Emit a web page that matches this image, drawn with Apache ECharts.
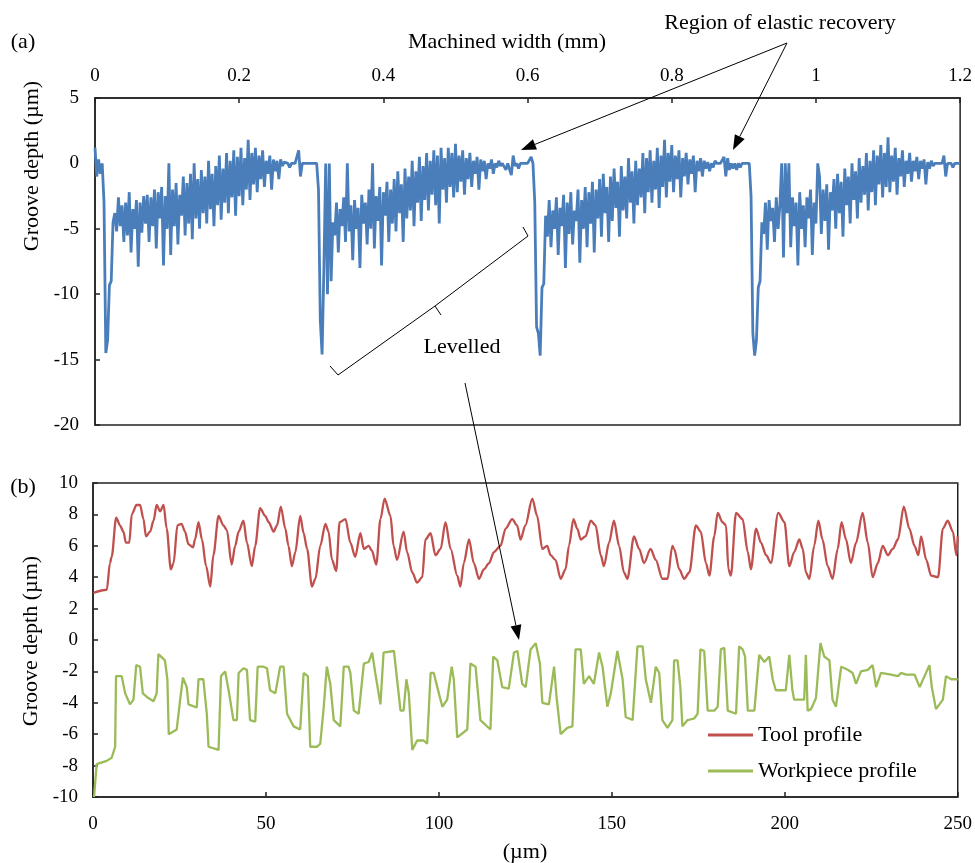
<!DOCTYPE html>
<html>
<head>
<meta charset="utf-8">
<title>Groove depth profiles</title>
<script src="https://cdn.jsdelivr.net/npm/echarts@6.0.0/dist/echarts.min.js"></script>
<style>
  html, body { margin: 0; padding: 0; background: #fff; }
  #chart { width: 975px; height: 863px; }
</style>
</head>
<body>
<div id="chart"></div>
<script>
// (a) groove depth along machined width, one reading every 0.0025 mm from 0 to 1.2 mm
const widthStepMm = 0.0025;
const grooveDepthA = [
  1.2, -1.0, 0.3, -0.8, 0, -3, -14.5, -13.5, -9.3, -9, -4.5,
  // first pass
  -3.8, -5.2, -2.6, -4.8, -3.2, -6.0, -3.0, -5.5, -2.2, -6.8,
  -3.5, -5.0, -2.8, -7.9, -3.0, -5.3, -2.5, -4.6, -2.4, -6.0,
  -2.6, -4.8, -2.0, -6.5, -2.2, -4.2, -1.8, -7.8, -2.5, -5.0,
  0.0, -7.0, -2.0, -4.8, -1.5, -6.2, -2.4, -4.0, -1.0, -5.5,
  -1.5, -4.6, -0.8, -5.8, 0.0, -4.2, -1.2, -5.0, -0.5, -3.8,
  -1.0, -4.6, 0.2, -3.5, -0.8, -4.8, -0.2, -3.2, 0.6, -4.3,
  -0.4, -3.0, 0.8, -3.8, 0.2, -2.6, 1.0, -4.0, 0.5, -2.5,
  1.2, -3.2, 0.4, -2.0, 1.8, -2.8, 0.8, -1.6, 1.2, -2.2,
  0.6, -1.2, 1.0, -1.8, 0.2, -0.8, 0.6, -2.0, 0.3, -0.6,
  0.2, -1.2, 0.3, -0.2,
  0.1, 0, 0, -0.3, 0, 0, 0, 0, 1.0, -1.0, 0, 0, 0, 0, 0, 0, 0, 0, 0,
  -2, -12, -14.6, -8, 0, -10, 0, -9, -4.5,
  // second pass
  -5.5, -3.0, -6.8, -3.5, -4.8, -2.6, -6.0, 0.0, -5.2, -3.2,
  -7.4, -2.8, -5.0, -3.4, -8.0, -2.4, -4.6, -3.0, -6.2, -2.0,
  -5.0, 0.0, -6.5, -2.5, -4.4, -1.8, -7.8, -2.2, -4.0, -1.4,
  -6.0, -2.0, -4.6, -1.2, -5.2, -0.6, -3.8, -1.6, -6.0, -0.4,
  -4.2, -1.0, -3.6, 0.2, -4.8, -0.6, -3.0, 0.5, -4.4, -0.2,
  -2.8, 0.8, -3.6, 0.2, -2.4, 1.0, -3.2, 0.6, -4.6, 1.2,
  -2.0, 0.4, -3.0, 1.2, -1.8, 0.8, -2.6, 1.5, -2.2, 0.6,
  -1.4, 1.0, -2.4, 0.4, -1.2, 0.8, -1.8, 0.2, -0.8, 0.5,
  -2.0, 0.3, -0.6, 0.2, -1.2, 0.0, -0.4, 0.3, -0.8, 0.0,
  -0.3, 0.2, -0.2, 0.0,
  0, -0.5, 0, 0, -0.9, 0.6, -0.2, 0, -0.4, 0, 0, 0, 0, 0, 0, 0.5, 0,
  -3, -12.5, -13, -14.7, -9.5, -9.2, -4,
  // third pass
  -5.6, -2.8, -6.4, -3.6, -5.0, -2.6, -7.0, -3.4, -4.8, -2.4,
  -8.0, -3.0, -5.4, -2.2, -6.2, -3.6, -4.4, -2.0, -7.6, -2.8,
  -5.0, -1.8, -6.4, -2.2, -4.6, -1.4, -6.8, -2.0, -4.2, -1.2,
  -5.6, -0.8, -3.8, -1.8, -6.0, -1.0, -4.4, -0.4, -3.4, -1.4,
  -5.6, -0.2, -3.6, -1.0, -4.2, 0.4, -3.0, -0.6, -4.6, 0.2,
  -3.2, -0.4, -2.6, 0.8, -3.8, 0.4, -2.2, 1.0, -3.0, 0.2,
  -2.0, 1.2, -3.4, 0.6, -1.8, 1.8, -2.6, 0.8, -1.4, 1.4,
  -2.2, 0.6, -1.2, 1.0, -2.6, 0.4, -1.0, 0.8, -1.6, 0.3,
  -0.8, 0.6, -2.2, 0.2, -0.6, 0.4, -1.0, 0.2, -0.4, 0.1,
  -0.6, 0.0, -0.3, 0.2, 0.0, 0.0,
  0, 0, 0.5, -1.0, 0.4, -0.5, 0, -0.4, 0, -0.5, 0, -0.3, 0, 0, 0, 0, 0,
  -2.5, -13, -14.7, -13.5, -9.5, -9, -4.5,
  // fourth pass
  -5.4, -3.0, -6.6, -2.8, -4.4, -3.4, -6.0, -2.6, -5.0, -3.2,
  0.0, -7.2, 0.0, -3.8, 0.0, -6.4, -2.6, -4.8, -3.0, -7.8,
  -2.2, -5.0, -3.2, -6.4, -2.6, -4.2, -2.0, -7.0, -3.0, -4.6,
  0.0, -1.0, -5.4, -2.0, -4.4, -1.6, -6.6, -2.2, -3.6, -1.2,
  -5.0, -0.8, -3.8, -1.4, -5.6, -0.4, -3.2, -1.0, -4.6, 0.0,
  -2.8, -0.6, -4.2, 0.4, -3.0, -0.2, -2.4, 0.8, -3.6, 0.2,
  -2.2, 1.0, -3.2, 0.6, -1.6, 1.4, -2.6, 0.8, -1.8, 2.0,
  -2.2, 0.6, -1.4, 1.2, -2.4, 0.4, -1.0, 1.0, -1.8, 0.2,
  -0.8, 0.8, -1.4, 0.2, -0.6, 0.5, -1.2, 0.2, -0.4, 0.3,
  -1.6, 0.1, -0.4, 0.2, -0.2, 0.0,
  0, 0, 0, 0, 0.6, -1.0, 0, 0, 0, -0.3, 0, 0, 0, 0
];

// (b) levelled profiles, [position um, depth um]
const toolProfile = [
  [0.1,3.0],[4.0,3.2],[4.9,4.9],[5.4,5.3],[6.7,7.8],[7.8,7.3],[8.8,6.9],[9.5,6.2],[10.5,6.2],[11.2,8.0],
  [12.6,8.6],[13.6,8.6],[14.6,7.7],[15.3,6.6],[16.5,6.9],[17.5,7.6],[18.4,8.6],[19.4,8.2],[20.4,8.6],[21.3,7.1],
  [22.5,4.5],[23.3,4.9],[24.4,7.3],[25.6,7.4],[26.6,6.9],[27.6,6.1],[28.9,5.9],[29.5,6.4],[30.5,7.5],[31.5,6.4],
  [32.7,4.7],[33.9,3.4],[34.8,5.4],[36.3,7.9],[37.7,7.3],[38.7,7.0],[40.1,4.8],[41.1,6.0],[42.1,6.9],[43.5,7.6],
  [44.5,6.2],[45.9,4.7],[46.9,6.0],[48.3,8.4],[49.8,7.9],[50.8,7.5],[52.2,6.9],[53.2,7.3],[54.3,8.5],[55.6,7.1],
  [56.5,6.0],[57.5,4.7],[58.5,5.6],[59.9,7.9],[60.9,6.8],[61.9,5.8],[63.3,3.4],[64.3,3.9],[65.7,6.0],[67.2,7.4],
  [68.1,6.9],[69.1,5.1],[70.3,4.4],[71.3,7.5],[73.0,7.7],[74.4,6.2],[75.8,5.3],[77.3,6.8],[78.3,5.8],[79.7,6.0],
  [80.6,5.7],[81.9,4.8],[83.1,7.7],[84.3,9.0],[86.0,7.9],[86.9,6.0],[87.9,5.1],[89.8,6.9],[90.8,5.6],[92.3,4.3],
  [93.7,3.65],[95.2,4.0],[96.1,6.4],[97.6,6.8],[99.0,5.4],[100.5,5.8],[101.9,7.5],[103.4,5.8],[105.3,4.1],[106.2,3.4],
  [107.2,4.9],[108.7,6.4],[110.1,4.9],[111.6,3.9],[113.0,4.5],[114.5,4.9],[115.9,5.6],[117.8,6.0],[119.3,7.1],[121.2,7.7],
  [122.6,7.3],[123.6,6.4],[125.0,7.3],[127.0,9.0],[128.4,7.9],[129.9,5.8],[131.3,6.0],[132.3,5.4],[133.7,5.1],[135.2,3.9],
  [136.6,4.5],[137.6,6.0],[138.9,7.7],[140.0,7.1],[141.0,6.4],[142.4,6.6],[143.9,7.6],[145.3,7.3],[146.8,5.4],[147.7,4.7],
  [149.2,6.2],[150.6,7.6],[152.1,6.0],[153.5,4.3],[154.5,3.9],[156.4,6.6],[157.9,5.8],[159.3,4.9],[161.2,5.8],[162.7,5.1],
  [164.6,3.9],[166.1,3.9],[167.5,6.0],[168.0,5.8],[169.5,4.5],[170.9,3.9],[172.4,4.3],[174.3,7.3],[175.7,6.9],[177.2,4.9],
  [178.2,4.1],[179.6,6.6],[180.6,8.1],[182.0,7.5],[183.0,7.3],[183.7,4.5],[184.4,4.1],[185.9,8.1],[187.8,7.7],[189.3,5.6],
  [190.2,4.5],[191.7,7.1],[193.1,6.2],[194.6,5.4],[196.0,4.9],[198.1,8.1],[199.9,7.5],[201.3,4.7],[202.7,5.6],[204.2,6.4],
  [205.2,5.8],[206.1,4.3],[207.1,3.9],[208.5,6.0],[209.7,7.6],[210.9,6.4],[212.4,4.7],[213.8,3.9],[215.3,5.8],[216.4,7.5],
  [217.7,6.4],[219.1,4.9],[220.6,6.2],[222.5,8.1],[224.0,6.2],[225.4,4.0],[226.9,4.9],[228.3,6.0],[229.8,5.4],[231.2,5.8],
  [232.7,6.4],[234.4,8.5],[236.0,7.1],[237.5,6.0],[238.6,5.4],[239.4,6.6],[240.9,5.1],[242.3,4.1],[244.3,4.0],[245.7,7.1],
  [247.1,7.6],[248.6,6.9],[249.6,5.4],[250,6.6]
];
const workpieceProfile = [
  [0.3,-10],[1.06,-7.9],[3.96,-7.7],[5.4,-7.5],[6.4,-6.8],[6.66,-2.3],[8.3,-2.3],[9.3,-3.4],[10.7,-4.1],[11.7,-3.8],
  [12.5,-1.6],[13.6,-1.7],[14.4,-3.4],[16.0,-3.7],[17.5,-3.9],[18.4,-3.4],[18.9,-0.9],[20.8,-1.3],[21.5,-2.5],[21.9,-6.0],
  [24.2,-5.7],[25.2,-3.8],[26.0,-2.4],[27.1,-3.0],[27.6,-4.1],[30.0,-4.3],[30.5,-2.5],[31.9,-2.5],[32.9,-4.7],[33.4,-6.8],
  [36.3,-7.0],[37.0,-2.3],[38.2,-2.0],[39.2,-3.2],[40.6,-5.1],[41.6,-5.1],[42.1,-2.1],[43.5,-1.8],[44.5,-1.9],[45.4,-5.1],
  [46.9,-5.2],[47.6,-1.7],[49.3,-1.7],[50.3,-1.8],[51.2,-3.2],[52.7,-3.4],[54.1,-1.7],[55.1,-1.7],[56.1,-4.7],[58.0,-5.5],
  [59.9,-5.7],[60.9,-2.1],[62.1,-2.3],[62.8,-6.8],[64.8,-6.8],[65.7,-6.6],[66.7,-4.3],[67.6,-1.7],[68.6,-2.8],[69.6,-5.1],
  [71.5,-5.5],[72.5,-1.7],[73.9,-1.7],[74.4,-2.1],[75.4,-4.5],[76.8,-4.7],[78.3,-1.5],[79.7,-1.4],[80.7,-0.8],[81.6,-2.1],
  [83.1,-4.1],[84.0,-0.8],[87.0,-0.7],[87.9,-2.5],[88.9,-4.5],[89.8,-4.5],[90.6,-2.5],[91.3,-3.4],[92.3,-7.0],[93.7,-6.4],
  [95.6,-6.4],[96.6,-6.6],[97.6,-2.1],[98.5,-2.1],[100.0,-3.4],[101.0,-4.25],[102.4,-3.8],[103.7,-1.7],[104.3,-2.5],[105.3,-6.2],
  [108.2,-5.7],[109.1,-1.5],[110.6,-1.7],[112.0,-5.1],[114.9,-5.7],[115.7,-1.05],[116.9,-1.3],[118.3,-3.0],[120.2,-3.1],[121.7,-0.8],
  [122.7,-0.7],[124.1,-2.8],[125.1,-3.0],[126.5,-0.6],[128.0,-0.2],[129.2,-1.5],[129.9,-4.0],[131.8,-4.1],[133.3,-1.7],[134.0,-3.6],
  [135.2,-6.0],[137.1,-5.6],[138.6,-5.5],[139.5,-0.6],[141.0,-0.6],[141.9,-2.8],[143.4,-2.3],[144.8,-2.8],[146.3,-0.8],[147.3,-1.7],
  [148.7,-4.25],[149.7,-3.4],[151.6,-0.7],[153.1,-2.5],[154.0,-4.9],[156.0,-5.1],[157.4,-0.4],[158.9,-0.4],[159.8,-2.5],[161.3,-4.0],
  [162.7,-1.7],[163.7,-2.1],[164.6,-5.1],[166.1,-5.6],[167.5,-5.1],[168.0,-1.3],[169.0,-1.3],[169.8,-3.0],[170.4,-5.5],[171.9,-5.1],
  [173.8,-5.0],[174.8,-4.7],[175.6,-0.6],[176.7,-0.7],[177.7,-4.5],[179.6,-4.5],[180.6,-4.25],[181.5,-0.6],[182.5,-0.5],[183.5,-4.5],
  [185.9,-4.7],[186.8,-0.4],[187.8,-0.6],[188.5,-1.05],[189.3,-4.5],[191.2,-4.5],[192.6,-0.95],[194.1,-1.4],[195.5,-1.05],[196.5,-2.5],
  [197.4,-3.2],[200.3,-3.2],[201.3,-0.95],[202.2,-3.2],[202.7,-3.8],[205.6,-3.8],[206.1,-0.95],[206.6,-4.5],[207.6,-4.4],[209.0,-3.7],
  [210.3,-0.2],[211.4,-1.05],[212.9,-1.3],[213.8,-3.8],[214.8,-4.25],[216.3,-1.7],[218.2,-1.9],[219.6,-2.1],[220.6,-2.8],[222.0,-2.0],
  [224.0,-1.9],[225.4,-1.6],[226.4,-3.0],[227.8,-2.1],[230.7,-2.2],[232.7,-2.3],[233.6,-2.1],[235.1,-2.2],[237.5,-2.2],[239.0,-3.0],
  [240.4,-2.3],[241.8,-1.6],[242.5,-3.0],[243.7,-4.4],[245.7,-3.8],[246.6,-2.3],[248.1,-2.5],[250,-2.5]
];

const serif = '"Liberation Serif", "Times New Roman", serif';
const ink = '#222';

const chart = echarts.init(document.getElementById('chart'), null, { renderer: 'canvas' });

const depthAPoints = grooveDepthA.map((v, i) => [+(i * widthStepMm).toFixed(4), v]);

function axisCommon(extra) {
  return Object.assign({
    type: 'value',
    axisLine: { show: true, onZero: false, lineStyle: { color: ink, width: 1.5 } },
    axisTick: { show: true, inside: true, length: 5, lineStyle: { color: ink, width: 1.5 } },
    axisLabel: { color: '#000', fontSize: 19, fontFamily: serif },
    splitLine: { show: false }
  }, extra);
}

function label(text, x, y, rotation) {
  return {
    type: 'text', x: x, y: y, rotation: rotation || 0, z: 100,
    style: { text: text, fill: '#000', font: '22px ' + serif, align: 'center', verticalAlign: 'middle' }
  };
}

function arrow(tail, tip) {
  const dx = tip[0] - tail[0], dy = tip[1] - tail[1];
  const L = Math.hypot(dx, dy), ux = dx / L, uy = dy / L;
  const len = 15, half = 5.5;
  const bx = tip[0] - ux * len, by = tip[1] - uy * len;
  return [
    { type: 'line', z: 100, shape: { x1: tail[0], y1: tail[1], x2: bx, y2: by }, style: { stroke: '#000', lineWidth: 1 } },
    { type: 'polygon', z: 100, shape: { points: [tip, [bx - uy * half, by + ux * half], [bx + uy * half, by - ux * half]] }, style: { fill: '#000' } }
  ];
}

const graphics = [
  label('(a)', 23, 42),
  label('(b)', 23, 487),
  label('Machined width (mm)', 507, 42),
  label('Groove depth (\u00b5m)', 32, 166, Math.PI / 2),
  label('Groove depth (\u00b5m)', 31, 641, Math.PI / 2),
  label('(\u00b5m)', 525, 852),
  label('Region of elastic recovery', 780, 23),
  label('Levelled', 462, 347),
  { type: 'polyline', z: 100, shape: { points: [[330, 366], [338, 375], [435, 306], [528, 236], [523, 227]] }, style: { stroke: '#000', lineWidth: 1, fill: null } },
  { type: 'line', z: 100, shape: { x1: 435, y1: 306, x2: 441, y2: 315 }, style: { stroke: '#000', lineWidth: 1 } }
].concat(arrow([787, 43], [521, 150]), arrow([787, 43], [733, 150]), arrow([465, 383], [519, 640]));

const option = {
  animation: false,
  backgroundColor: '#fff',
  textStyle: { fontFamily: serif },
  grid: [
    { left: 95, top: 98, width: 866, height: 327, show: true, borderColor: ink, borderWidth: 1.5, backgroundColor: 'transparent' },
    { left: 93, top: 483, width: 865, height: 314, show: true, borderColor: ink, borderWidth: 1.5, backgroundColor: 'transparent' }
  ],
  xAxis: [
    axisCommon({ gridIndex: 0, position: 'top', min: 0, max: 1.2, interval: 0.2,
      axisLabel: { color: '#000', fontSize: 19, fontFamily: serif, margin: 12 } }),
    axisCommon({ gridIndex: 1, position: 'bottom', min: 0, max: 250, interval: 50,
      axisLabel: { color: '#000', fontSize: 19, fontFamily: serif, margin: 18 } })
  ],
  yAxis: [
    axisCommon({ gridIndex: 0, min: -20, max: 5, interval: 5,
      axisLabel: { color: '#000', fontSize: 19, fontFamily: serif, margin: 16 } }),
    axisCommon({ gridIndex: 1, min: -10, max: 10, interval: 2,
      axisLabel: { color: '#000', fontSize: 19, fontFamily: serif, margin: 15 } })
  ],
  legend: {
    data: ['Tool profile', 'Workpiece profile'],
    orient: 'vertical',
    left: 708,
    top: 724,
    padding: 0,
    icon: 'rect',
    itemWidth: 45,
    itemHeight: 3,
    itemGap: 14,
    selectedMode: false,
    textStyle: { color: '#000', fontSize: 22, fontFamily: serif }
  },
  series: [
    {
      name: 'Groove depth', type: 'line', xAxisIndex: 0, yAxisIndex: 0,
      data: depthAPoints, symbol: 'none', silent: true,
      lineStyle: { color: '#4A7EBB', width: 2.8 }, itemStyle: { color: '#4A7EBB' }
    },
    {
      name: 'Tool profile', type: 'line', xAxisIndex: 1, yAxisIndex: 1,
      data: toolProfile, symbol: 'none', silent: true, smooth: 0.3, smoothMonotone: 'x',
      lineStyle: { color: '#C0504D', width: 2.3 }, itemStyle: { color: '#C0504D' }
    },
    {
      name: 'Workpiece profile', type: 'line', xAxisIndex: 1, yAxisIndex: 1,
      data: workpieceProfile, symbol: 'none', silent: true,
      lineStyle: { color: '#9BBB59', width: 2.3 }, itemStyle: { color: '#9BBB59' }
    }
  ],
  graphic: graphics
};

chart.setOption(option);
</script>
</body>
</html>
